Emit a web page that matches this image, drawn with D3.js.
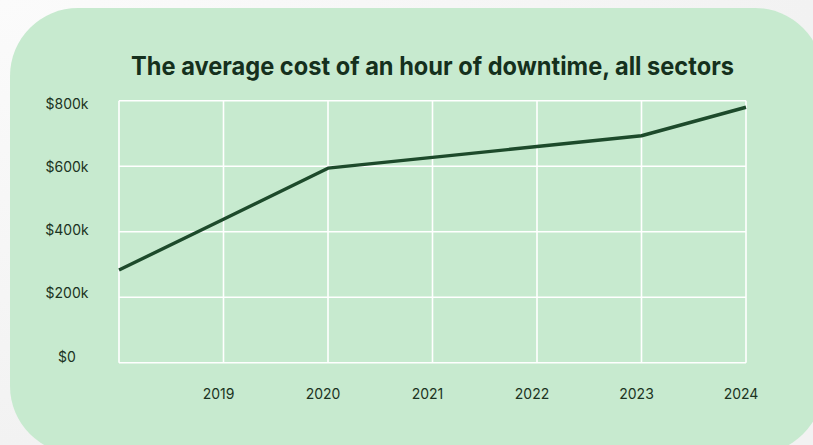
<!DOCTYPE html>
<html>
<head>
<meta charset="utf-8">
<script src="https://cdn.jsdelivr.net/npm/d3@7"></script>
<style>
  html, body { margin: 0; padding: 0; background: #f3f3f3; }
  svg { display: block; }
</style>
</head>
<body>
<div id="chart"></div>
<script>
// values
var years = [2018, 2019, 2020, 2021, 2022, 2023, 2024];
var cost = [283000, 438000, 594000, 627000, 660000, 693000, 780000];
var yTicks = [0, 200000, 400000, 600000, 800000];
var yTickLabels = ["$0", "$200k", "$400k", "$600k", "$800k"];
var xTicks = [2019, 2020, 2021, 2022, 2023, 2024];
var title = "The average cost of an hour of downtime, all sectors";

var config = {
    width       : 813,
    height      : 445,
    plotLeft    : 119,
    plotRight   : 746,
    plotTop     : 100.7,
    plotBottom  : 362.7,
    cardColor   : "#c7eacf",
    lineColor   : "#1d4a2b",
    textColor   : "#1b3322",
    gridColor   : "#ffffff"
};

var svg = d3.select("#chart")
    .append("svg")
        .attr("width", config.width)
        .attr("height", config.height);

// page background with a soft light corner
var defs = svg.append("defs");
var bg = defs.append("radialGradient")
    .attr("id", "bgGrad")
    .attr("cx", "0%").attr("cy", "0%").attr("r", "100%");
bg.append("stop").attr("offset", "0%").attr("stop-color", "#fbfbfb");
bg.append("stop").attr("offset", "100%").attr("stop-color", "#f2f2f2");

svg.append("rect")
    .attr("width", config.width)
    .attr("height", config.height)
    .attr("fill", "url(#bgGrad)");

// the green card, runs off the right and bottom edges
svg.append("rect")
    .attr("x", 10)
    .attr("y", 8)
    .attr("width", 813)
    .attr("height", 446)
    .attr("rx", 68)
    .attr("ry", 68)
    .attr("fill", config.cardColor);

var x = d3.scaleLinear()
    .domain([2018, 2024])
    .range([config.plotLeft, config.plotRight]);

var y = d3.scaleLinear()
    .domain([0, 800000])
    .range([config.plotBottom, config.plotTop]);

// tick labels sit a bit off the grid in the original
var yLabel = d3.scaleLinear()
    .domain([0, 800000])
    .range([356, 103]);

// grid
var grid = svg.append("g").attr("class", "grid");
grid.selectAll("line.h")
    .data(yTicks)
    .enter().append("line")
        .attr("class", "h")
        .attr("x1", config.plotLeft)
        .attr("x2", config.plotRight)
        .attr("y1", function(d) { return y(d); })
        .attr("y2", function(d) { return y(d); })
        .attr("stroke", config.gridColor)
        .attr("stroke-width", 1.6);

grid.selectAll("line.v")
    .data(years)
    .enter().append("line")
        .attr("class", "v")
        .attr("x1", function(d) { return x(d); })
        .attr("x2", function(d) { return x(d); })
        .attr("y1", config.plotTop)
        .attr("y2", config.plotBottom)
        .attr("stroke", config.gridColor)
        .attr("stroke-width", 1.6);

// y labels
svg.append("g")
    .selectAll("text")
    .data(yTicks)
    .enter().append("text")
        .attr("x", 67)
        .attr("y", function(d) { return yLabel(d); })
        .attr("text-anchor", "middle")
        .attr("dominant-baseline", "central")
        .style("font-family", "Inter, 'Noto Sans', sans-serif")
        .style("font-size", "14px")
        .attr("fill", config.textColor)
        .text(function(d, i) { return yTickLabels[i]; });

// x labels
svg.append("g")
    .selectAll("text")
    .data(xTicks)
    .enter().append("text")
        .attr("x", function(d) { return x(d) - 5; })
        .attr("y", 393)
        .attr("text-anchor", "middle")
        .attr("dominant-baseline", "central")
        .style("font-family", "Inter, 'Noto Sans', sans-serif")
        .style("font-size", "14px")
        .attr("fill", config.textColor)
        .text(function(d) { return d; });

// the line
var line = d3.line()
    .x(function(d, i) { return x(years[i]); })
    .y(function(d) { return y(d); });

svg.append("path")
    .datum(cost)
    .attr("d", line)
    .attr("fill", "none")
    .attr("stroke", config.lineColor)
    .attr("stroke-width", 3.4)
    .attr("stroke-linejoin", "round");

// title
svg.append("text")
    .attr("x", (config.plotLeft + config.plotRight) / 2)
    .attr("y", 75)
    .attr("text-anchor", "middle")
    .attr("textLength", 603)
    .attr("lengthAdjust", "spacingAndGlyphs")
    .style("font-family", "Inter, Roboto, sans-serif")
    .style("font-weight", "700")
    .style("font-size", "25px")
    .attr("fill", "#15301d")
    .text(title);
</script>
</body>
</html>
